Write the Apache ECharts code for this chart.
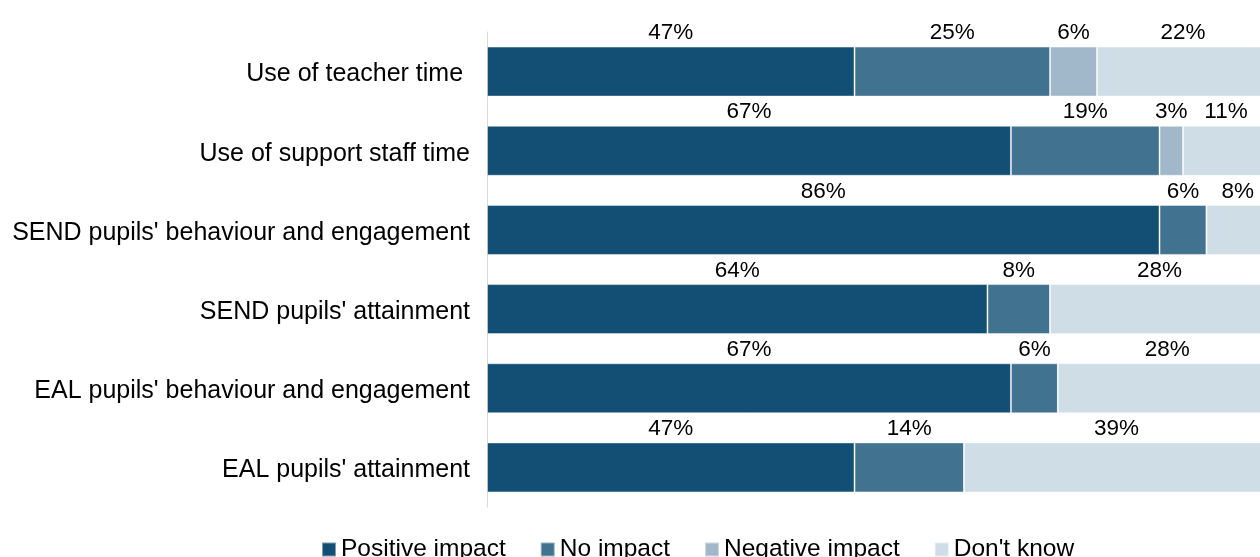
<!DOCTYPE html>
<html>
<head>
<meta charset="utf-8">
<script src="https://cdn.jsdelivr.net/npm/echarts@6/dist/echarts.min.js"></script>
<style>
  html, body { margin: 0; padding: 0; background: #fff; }
  #chart { width: 1260px; height: 557px; }
</style>
</head>
<body>
<div id="chart"></div>
<script>
// Survey areas, listed top to bottom
const categories = [
  "Use of teacher time ",
  "Use of support staff time",
  "SEND pupils' behaviour and engagement",
  "SEND pupils' attainment",
  "EAL pupils' behaviour and engagement",
  "EAL pupils' attainment"
];
const seriesNames = ["Positive impact", "No impact", "Negative impact", "Don't know"];
// Percentages per area, same order as categories
const positiveImpact = [47, 67, 86, 64, 67, 47];
const noImpact       = [25, 19, 6, 8, 6, 14];
const negativeImpact = [6, 3, 0, 0, 0, 0];
const dontKnow       = [22, 11, 8, 28, 28, 39];

const colors = ["#134f74", "#41728f", "#a0b8c9", "#cfdde6"];
const values = [positiveImpact, noImpact, negativeImpact, dontKnow];

const chart = echarts.init(document.getElementById('chart'), null, { renderer: 'canvas' });

chart.setOption({
  animation: false,
  textStyle: { fontFamily: 'Liberation Sans, Arial, sans-serif' },
  // plot area runs a little past the right edge of the canvas
  grid: { left: 487, top: 32, width: 782, height: 475, containLabel: false, outerBoundsMode: 'none' },
  xAxis: {
    type: 'value', min: 0, max: 100,
    show: false
  },
  yAxis: {
    type: 'category',
    data: categories.slice().reverse(),
    axisLine: { show: true, lineStyle: { color: '#d9d9d9', width: 1 } },
    axisTick: { show: false },
    axisLabel: {
      margin: 17,
      formatter: v => '{c|' + v + '}',
      rich: {
        c: {
          color: '#000', fontSize: 25, padding: [6, 0, 0, 0],
          fontFamily: 'Liberation Sans, Arial, sans-serif'
        }
      }
    }
  },
  legend: {
    left: 316, top: 532,
    itemWidth: 14, itemHeight: 14, itemGap: 34,
    icon: 'rect',
    textStyle: { color: '#000', fontSize: 24.5 },
    data: seriesNames
  },
  series: seriesNames.map((name, i) => ({
    name: name,
    type: 'bar',
    stack: 'total',
    barWidth: 50,
    clip: false,
    data: values[i].slice().reverse(),
    itemStyle: { color: colors[i], borderColor: 'rgba(255,255,255,0.45)', borderWidth: 1 },
    label: {
      show: true,
      position: 'top',
      distance: 2,
      color: '#000',
      fontSize: 22.5,
      formatter: p => (p.value > 0 ? p.value + '%' : '')
    }
  }))
});
</script>
</body>
</html>
